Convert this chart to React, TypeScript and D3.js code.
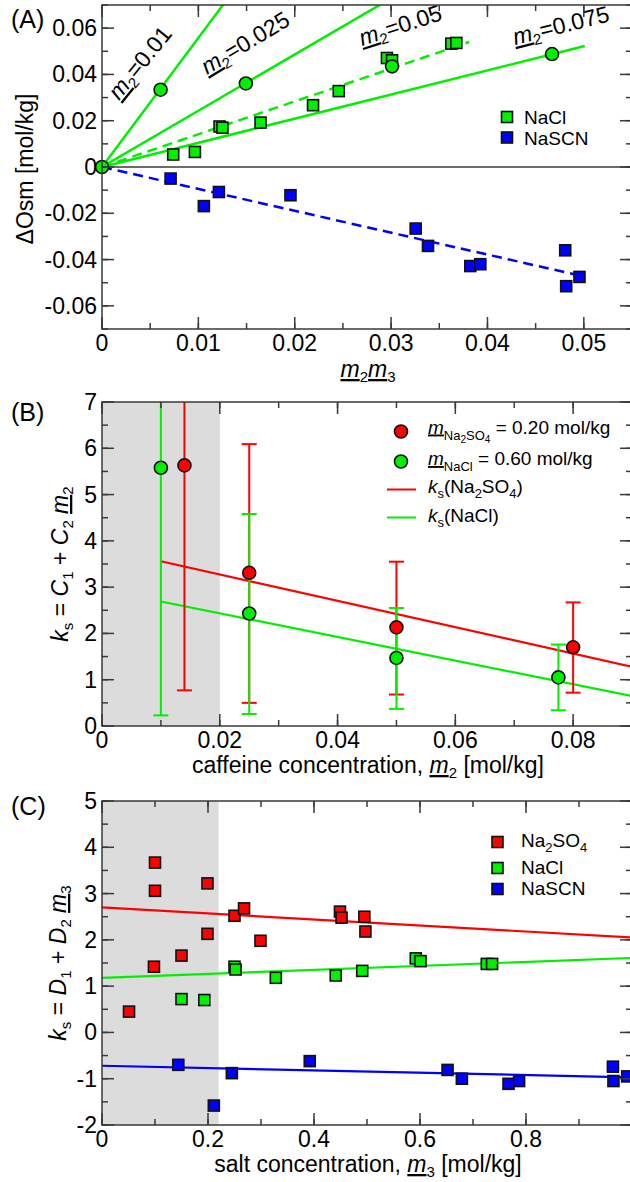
import React from 'react';
import * as d3 from 'd3';

// ---- panel A: osmolality change vs m2*m3 ----
const aNaClX = [0.00739, 0.00964, 0.0122, 0.0125, 0.01645, 0.0219, 0.02457, 0.02957, 0.0301, 0.03625, 0.03677];
const aNaClY = [0.0054, 0.0065, 0.0175, 0.0170, 0.0192, 0.0267, 0.0328, 0.0471, 0.0461, 0.0533, 0.0536];
const aNaSCNX = [0.00712, 0.01057, 0.01213, 0.01956, 0.03255, 0.03383, 0.03822, 0.03926, 0.04807, 0.04817, 0.04955];
const aNaSCNY = [-0.0050, -0.0169, -0.0108, -0.0122, -0.0266, -0.0341, -0.0428, -0.0420, -0.0360, -0.0515, -0.0475];
const aCaffX = [0, 0.00608, 0.01493, 0.0301, 0.0467];
const aCaffY = [0, 0.0334, 0.0361, 0.0435, 0.0488];
const aFitM2 = ['0.01', '0.025', '0.05', '0.075'];
const aFitSlope = [5.58, 2.43, 1.417, 1.044];
const aFitEnd = [0.02, 0.04, 0.0381, 0.0501];
const aFitDash = [false, false, true, false];
const aSCNSlope = -0.946;
const aSCNEnd = 0.049;
const aXTicks = [0, 0.01, 0.02, 0.03, 0.04, 0.05];
const aXLabels = ['0', '0.01', '0.02', '0.03', '0.04', '0.05'];
const aYTicks = [-0.06, -0.04, -0.02, 0, 0.02, 0.04, 0.06];
const aYLabels = ['-0.06', '-0.04', '-0.02', '0', '0.02', '0.04', '0.06'];

// ---- panel B: ks vs caffeine concentration ----
const bNaClX = [0.010, 0.025, 0.050, 0.0775];
const bNaClY = [5.58, 2.43, 1.47, 1.05];
const bNaClLo = [0.23, 0.26, 0.37, 0.34];
const bNaClHi = [9, 4.58, 2.55, 1.76];
const bSO4X = [0.014, 0.025, 0.050, 0.080];
const bSO4Y = [5.63, 3.31, 2.13, 1.70];
const bSO4Lo = [0.77, 0.50, 0.68, 0.72];
const bSO4Hi = [9, 6.09, 3.55, 2.67];
const bFitC1 = [3.845, 2.946]; // Na2SO4, NaCl
const bFitC2 = [-28.5, -25.56];
const bFitRange = [0.01, 0.09];
const bXTicks = [0, 0.02, 0.04, 0.06, 0.08];
const bXLabels = ['0', '0.02', '0.04', '0.06', '0.08'];
const bYTicks = [0, 1, 2, 3, 4, 5, 6, 7];
const bYLabels = ['0', '1', '2', '3', '4', '5', '6', '7'];

// ---- panel C: ks vs salt concentration ----
const cSO4X = [0.051, 0.098, 0.10, 0.10, 0.15, 0.199, 0.199, 0.25, 0.268, 0.299, 0.449, 0.452, 0.495, 0.497];
const cSO4Y = [0.45, 1.42, 3.06, 3.67, 1.66, 2.13, 3.22, 2.52, 2.68, 1.98, 2.61, 2.48, 2.50, 2.18];
const cNaClX = [0.15, 0.193, 0.25, 0.252, 0.328, 0.441, 0.491, 0.592, 0.601, 0.726, 0.736];
const cNaClY = [0.72, 0.70, 1.42, 1.36, 1.18, 1.23, 1.33, 1.60, 1.54, 1.48, 1.48];
const cSCNX = [0.144, 0.211, 0.245, 0.392, 0.652, 0.679, 0.767, 0.787, 0.964, 0.965, 0.991];
const cSCNY = [-0.70, -1.58, -0.88, -0.62, -0.81, -1.00, -1.11, -1.05, -0.74, -1.05, -0.95];
const cFitD1 = [2.70, 1.18, -0.72]; // Na2SO4, NaCl, NaSCN
const cFitD2 = [-0.65, 0.43, -0.25];
const cXTicks = [0, 0.2, 0.4, 0.6, 0.8];
const cXLabels = ['0', '0.2', '0.4', '0.6', '0.8'];
const cYTicks = [-2, -1, 0, 1, 2, 3, 4, 5];
const cYLabels = ['-2', '-1', '0', '1', '2', '3', '4', '5'];

const FONT = "'Liberation Sans', Arial, Helvetica, sans-serif";
const AXIS = '#3a3a3a';
const GREEN = '#00f000';
const RED = '#ff0000';
const BLUE = '#0000ff';
const SHADE = '#dcdcdc';

const X0 = 102;
const X1 = 632;
const FS = 23; // tick labels and axis titles
const LFS = 19; // legend text

type Scale = d3.ScaleLinear<number, number>;

function Frame({ x, y, xMajor, xMinorStep, yMajor, yMinorStep, xLabels, yLabels }: {
  x: Scale; y: Scale; xMajor: number[]; xMinorStep: number; yMajor: number[]; yMinorStep: number;
  xLabels: string[]; yLabels: string[];
}) {
  const [xa, xb] = x.range();
  const [yb, ya] = y.range();
  const [dx0, dx1] = x.domain();
  const [dy0, dy1] = y.domain();
  const xMinor = d3.range(Math.round((dx1 - dx0) / xMinorStep) + 1).map(i => dx0 + i * xMinorStep);
  const yMinor = d3.range(Math.round((dy1 - dy0) / yMinorStep) + 1).map(i => dy0 + i * yMinorStep);
  const MAJ = 12, MIN = 6;
  return (
    <g stroke={AXIS} strokeWidth={1.5}>
      <rect x={xa} y={ya} width={xb - xa} height={yb - ya} fill="none" />
      {xMinor.map((v, i) => (
        <g key={'xm' + i}>
          <line x1={x(v)} x2={x(v)} y1={yb} y2={yb - MIN} />
          <line x1={x(v)} x2={x(v)} y1={ya} y2={ya + MIN} />
        </g>
      ))}
      {xMajor.map((v, i) => (
        <g key={'xM' + i}>
          <line x1={x(v)} x2={x(v)} y1={yb} y2={yb - MAJ} />
          <line x1={x(v)} x2={x(v)} y1={ya} y2={ya + MAJ} />
        </g>
      ))}
      {yMinor.map((v, i) => (
        <g key={'ym' + i}>
          <line x1={xa} x2={xa + MIN} y1={y(v)} y2={y(v)} />
          <line x1={xb} x2={xb - MIN} y1={y(v)} y2={y(v)} />
        </g>
      ))}
      {yMajor.map((v, i) => (
        <g key={'yM' + i}>
          <line x1={xa} x2={xa + MAJ} y1={y(v)} y2={y(v)} />
          <line x1={xb} x2={xb - MAJ} y1={y(v)} y2={y(v)} />
        </g>
      ))}
      <g stroke="none" fill="#000" fontSize={FS}>
        {xMajor.map((v, i) => (
          <text key={'xl' + i} x={x(v)} y={yb + 22} textAnchor="middle">{xLabels[i]}</text>
        ))}
        {yMajor.map((v, i) => (
          <text key={'yl' + i} x={xa - 5} y={y(v) + 8} textAnchor="end">{yLabels[i]}</text>
        ))}
      </g>
    </g>
  );
}

const Square = ({ cx, cy, fill }: { cx: number; cy: number; fill: string }) => (
  <rect x={cx - 5.5} y={cy - 5.5} width={11} height={11} fill={fill} stroke="#111" strokeWidth={1.6} />
);
const Dot = ({ cx, cy, fill }: { cx: number; cy: number; fill: string }) => (
  <circle cx={cx} cy={cy} r={6.5} fill={fill} stroke="#111" strokeWidth={1.6} />
);

const und = { textDecoration: 'underline' } as React.CSSProperties;

function PanelA() {
  const x = d3.scaleLinear().domain([0, 0.055]).range([X0, X1]);
  const y = d3.scaleLinear().domain([-0.07, 0.07]).range([329, 5]);
  const line = d3.line<[number, number]>().x(d => x(d[0])).y(d => y(d[1]));
  const labelPos = [
    { x: 119, y: 101, a: -51 },
    { x: 207, y: 75, a: -31 },
    { x: 362, y: 46, a: -18 },
    { x: 515, y: 45, a: -14 },
  ];
  return (
    <g>
      <clipPath id="clipA"><rect x={X0} y={5} width={X1 - X0} height={324} /></clipPath>
      <line x1={X0} x2={X1} y1={y(0)} y2={y(0)} stroke={AXIS} strokeWidth={1.5} />
      <g clipPath="url(#clipA)" fill="none" strokeWidth={2.5}>
        {aFitSlope.map((s, i) => (
          <path key={i} d={line([[0, 0], [aFitEnd[i], s * aFitEnd[i]]]) || ''} stroke={GREEN}
            strokeDasharray={aFitDash[i] ? '10 6' : undefined} />
        ))}
        <path d={line([[0, 0], [aSCNEnd, aSCNSlope * aSCNEnd]]) || ''} stroke={BLUE} strokeDasharray="10 6" />
      </g>
      {aNaClX.map((v, i) => <Square key={'n' + i} cx={x(v)} cy={y(aNaClY[i])} fill={GREEN} />)}
      {aNaSCNX.map((v, i) => <Square key={'s' + i} cx={x(v)} cy={y(aNaSCNY[i])} fill={BLUE} />)}
      {aCaffX.map((v, i) => <Dot key={'c' + i} cx={x(v)} cy={y(aCaffY[i])} fill={GREEN} />)}
      {aFitM2.map((m, i) => (
        <text key={'lab' + i} transform={`translate(${labelPos[i].x},${labelPos[i].y}) rotate(${labelPos[i].a})`}
          fontSize={FS} style={{ whiteSpace: 'pre' }}>
          <tspan fontStyle="italic" style={und}>m</tspan>
          <tspan dy={5} fontSize={15}>2</tspan>
          <tspan dy={-5}>={m}</tspan>
        </text>
      ))}
      <Frame x={x} y={y} xMajor={aXTicks} xMinorStep={0.005} yMajor={aYTicks} yMinorStep={0.01}
        xLabels={aXLabels} yLabels={aYLabels} />
      <Square cx={507} cy={117} fill={GREEN} />
      <Square cx={507} cy={137.5} fill={BLUE} />
      <text x={524} y={124} fontSize={LFS}>NaCl</text>
      <text x={524} y={144.5} fontSize={LFS}>NaSCN</text>
      <text transform="translate(33,169) rotate(-90)" textAnchor="middle" fontSize={FS}>ΔOsm [mol/kg]</text>
      <text x={368} y={377} textAnchor="middle" fontSize={FS}>
        <tspan fontStyle="italic" style={und}>m</tspan>
        <tspan dy={5} fontSize={15}>2</tspan>
        <tspan dy={-5} fontStyle="italic" style={und}>m</tspan>
        <tspan dy={5} fontSize={15}>3</tspan>
      </text>
      <text x={11} y={28} fontSize={25}>(A)</text>
    </g>
  );
}

function ErrBar({ x, y, xv, lo, hi, color }: { x: Scale; y: Scale; xv: number; lo: number; hi: number; color: string }) {
  const [, top] = y.domain();
  const px = x(xv);
  return (
    <g stroke={color} strokeWidth={2}>
      <line x1={px} x2={px} y1={y(lo)} y2={y(Math.min(hi, top))} />
      <line x1={px - 7.5} x2={px + 7.5} y1={y(lo)} y2={y(lo)} />
      {hi <= top && <line x1={px - 7.5} x2={px + 7.5} y1={y(hi)} y2={y(hi)} />}
    </g>
  );
}

function PanelB() {
  const x = d3.scaleLinear().domain([0, 0.09]).range([X0, X1]);
  const y = d3.scaleLinear().domain([0, 7]).range([726, 402]);
  const line = d3.line<number>().x(d => x(d));
  const colors = [RED, GREEN];
  return (
    <g>
      <rect x={x(0)} y={y(7)} width={x(0.02) - x(0)} height={y(0) - y(7)} fill={SHADE} />
      {bFitC1.map((c1, i) => (
        <path key={'f' + i} d={line.y(d => y(c1 + bFitC2[i] * d))(bFitRange) || ''} fill="none"
          stroke={colors[i]} strokeWidth={2.2} />
      ))}
      {bSO4X.map((v, i) => <ErrBar key={'re' + i} x={x} y={y} xv={v} lo={bSO4Lo[i]} hi={bSO4Hi[i]} color={RED} />)}
      {bNaClX.map((v, i) => <ErrBar key={'ge' + i} x={x} y={y} xv={v} lo={bNaClLo[i]} hi={bNaClHi[i]} color={GREEN} />)}
      {bSO4X.map((v, i) => <Dot key={'r' + i} cx={x(v)} cy={y(bSO4Y[i])} fill={RED} />)}
      {bNaClX.map((v, i) => <Dot key={'g' + i} cx={x(v)} cy={y(bNaClY[i])} fill={GREEN} />)}
      <Frame x={x} y={y} xMajor={bXTicks} xMinorStep={0.01} yMajor={bYTicks} yMinorStep={0.5}
        xLabels={bXLabels} yLabels={bYLabels} />
      {/* legend */}
      <Dot cx={401} cy={431.5} fill={RED} />
      <Dot cx={401} cy={461.5} fill={GREEN} />
      <line x1={387} x2={416} y1={489.5} y2={489.5} stroke={RED} strokeWidth={2} />
      <line x1={387} x2={416} y1={517.5} y2={517.5} stroke={GREEN} strokeWidth={2} />
      <g fontSize={LFS} style={{ whiteSpace: 'pre' }}>
        <text x={428} y={433.5}>
          <tspan fontStyle="italic" style={und}>m</tspan>
          <tspan dy={6} fontSize={13}>Na</tspan>
          <tspan dy={3} fontSize={10}>2</tspan>
          <tspan dy={-3} fontSize={13}>SO</tspan>
          <tspan dy={3} fontSize={10}>4</tspan>
          <tspan dy={-9}> = 0.20 mol/kg</tspan>
        </text>
        <text x={428} y={465}>
          <tspan fontStyle="italic" style={und}>m</tspan>
          <tspan dy={6} fontSize={13}>NaCl</tspan>
          <tspan dy={-6}> = 0.60 mol/kg</tspan>
        </text>
        <text x={428} y={493}>
          <tspan fontStyle="italic">k</tspan>
          <tspan dy={5} fontSize={13}>s</tspan>
          <tspan dy={-5}>(Na</tspan>
          <tspan dy={5} fontSize={13}>2</tspan>
          <tspan dy={-5}>SO</tspan>
          <tspan dy={5} fontSize={13}>4</tspan>
          <tspan dy={-5}>)</tspan>
        </text>
        <text x={428} y={521.5}>
          <tspan fontStyle="italic">k</tspan>
          <tspan dy={5} fontSize={13}>s</tspan>
          <tspan dy={-5}>(NaCl)</tspan>
        </text>
      </g>
      <text transform="translate(68,564) rotate(-90)" textAnchor="middle" fontSize={FS} style={{ whiteSpace: 'pre' }}>
        <tspan fontStyle="italic">k</tspan>
        <tspan dy={5} fontSize={15}>s</tspan>
        <tspan dy={-5}> = </tspan>
        <tspan fontStyle="italic">C</tspan>
        <tspan dy={5} fontSize={15}>1</tspan>
        <tspan dy={-5}> + </tspan>
        <tspan fontStyle="italic">C</tspan>
        <tspan dy={5} fontSize={15}>2</tspan>
        <tspan dy={-5}> </tspan>
        <tspan fontStyle="italic" style={und}>m</tspan>
        <tspan dy={5} fontSize={15}>2</tspan>
      </text>
      <text x={368} y={773} textAnchor="middle" fontSize={FS} style={{ whiteSpace: 'pre' }}>
        <tspan>caffeine concentration, </tspan>
        <tspan fontStyle="italic" style={und}>m</tspan>
        <tspan dy={5} fontSize={15}>2</tspan>
        <tspan dy={-5}> [mol/kg]</tspan>
      </text>
      <text x={11} y={421} fontSize={25}>(B)</text>
    </g>
  );
}

function PanelC() {
  const x = d3.scaleLinear().domain([0, 1]).range([X0, X1]);
  const y = d3.scaleLinear().domain([-2, 5]).range([1125, 801]);
  const line = d3.line<number>().x(d => x(d));
  const colors = [RED, GREEN, BLUE];
  const legend = [
    { c: RED, cy: 842, ty: 847 },
    { c: GREEN, cy: 868, ty: 874 },
    { c: BLUE, cy: 889, ty: 895 },
  ];
  return (
    <g>
      <rect x={x(0)} y={y(5)} width={x(0.22) - x(0)} height={y(-2) - y(5)} fill={SHADE} />
      {cFitD1.map((d1, i) => (
        <path key={'f' + i} d={line.y(d => y(d1 + cFitD2[i] * d))([0, 1]) || ''} fill="none"
          stroke={colors[i]} strokeWidth={2.2} />
      ))}
      {cSO4X.map((v, i) => <Square key={'r' + i} cx={x(v)} cy={y(cSO4Y[i])} fill={RED} />)}
      {cNaClX.map((v, i) => <Square key={'g' + i} cx={x(v)} cy={y(cNaClY[i])} fill={GREEN} />)}
      {cSCNX.map((v, i) => <Square key={'b' + i} cx={x(v)} cy={y(cSCNY[i])} fill={BLUE} />)}
      <Frame x={x} y={y} xMajor={cXTicks} xMinorStep={0.1} yMajor={cYTicks} yMinorStep={0.5}
        xLabels={cXLabels} yLabels={cYLabels} />
      {legend.map((l, i) => <Square key={'l' + i} cx={497.5} cy={l.cy} fill={l.c} />)}
      <g fontSize={LFS}>
        <text x={521} y={legend[0].ty}>
          <tspan>Na</tspan>
          <tspan dy={5} fontSize={13}>2</tspan>
          <tspan dy={-5}>SO</tspan>
          <tspan dy={5} fontSize={13}>4</tspan>
        </text>
        <text x={521} y={legend[1].ty}>NaCl</text>
        <text x={521} y={legend[2].ty}>NaSCN</text>
      </g>
      <text transform="translate(66,963) rotate(-90)" textAnchor="middle" fontSize={FS} style={{ whiteSpace: 'pre' }}>
        <tspan fontStyle="italic">k</tspan>
        <tspan dy={5} fontSize={15}>s</tspan>
        <tspan dy={-5}> = </tspan>
        <tspan fontStyle="italic">D</tspan>
        <tspan dy={5} fontSize={15}>1</tspan>
        <tspan dy={-5}> + </tspan>
        <tspan fontStyle="italic">D</tspan>
        <tspan dy={5} fontSize={15}>2</tspan>
        <tspan dy={-5}> </tspan>
        <tspan fontStyle="italic" style={und}>m</tspan>
        <tspan dy={5} fontSize={15}>3</tspan>
      </text>
      <text x={368} y={1172} textAnchor="middle" fontSize={FS} style={{ whiteSpace: 'pre' }}>
        <tspan>salt concentration, </tspan>
        <tspan fontStyle="italic" style={und}>m</tspan>
        <tspan dy={5} fontSize={15}>3</tspan>
        <tspan dy={-5}> [mol/kg]</tspan>
      </text>
      <text x={11} y={815} fontSize={25}>(C)</text>
    </g>
  );
}

export default function App() {
  return (
    <svg width={630} height={1182} fontFamily={FONT}
      style={{ position: 'absolute', left: 0, top: 0, background: '#fff' }}>
      <PanelA />
      <PanelB />
      <PanelC />
    </svg>
  );
}
